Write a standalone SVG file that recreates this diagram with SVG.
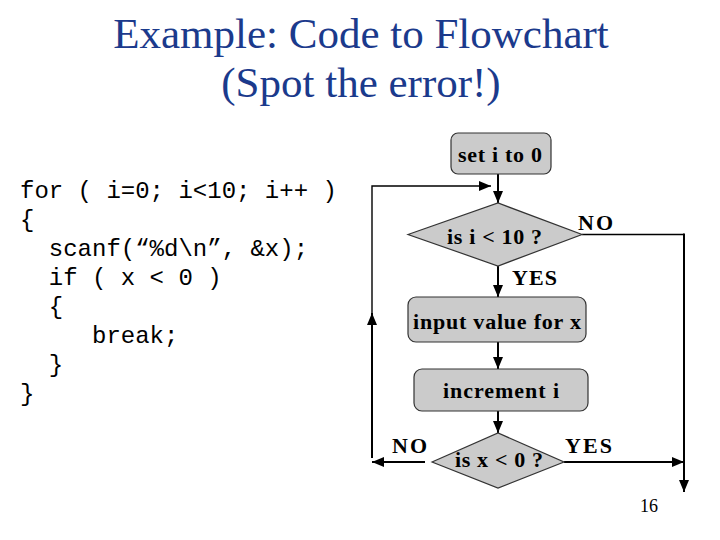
<svg xmlns="http://www.w3.org/2000/svg" width="720" height="540" viewBox="0 0 720 540">
<style>
.title{font-family:"Liberation Serif","Times New Roman",serif;font-size:43px;fill:#1b3a8c;text-anchor:middle}
.code{font-family:"Liberation Mono","Courier New",monospace;font-size:24px;fill:#000}
.lbl{font-family:"Liberation Serif","Times New Roman",serif;font-size:22px;font-weight:bold;fill:#000}
.shape{fill:#cbcbcb;stroke:#333;stroke-width:1.2}
.conn{fill:none;stroke:#000;stroke-width:2}
.thin{fill:none;stroke:#000;stroke-width:1.4}
.pg{font-family:"Liberation Serif","Times New Roman",serif;font-size:18px;fill:#000}
</style>
<defs>
<marker id="ah" markerUnits="userSpaceOnUse" markerWidth="12" markerHeight="12" viewBox="0 0 12 12" refX="12" refY="6" orient="auto">
<path d="M0,1 L12,6 L0,11 Z" fill="#000"/>
</marker>
</defs>
<rect width="720" height="540" fill="#fff"/>
<g id="title">
<text class="title" x="361" y="47.5">Example: Code to Flowchart</text>
<text class="title" x="361" y="96.5">(Spot the error!)</text>
</g>
<g id="code">
<text class="code" x="20" y="198">for ( i=0; i&lt;10; i++ )</text>
<text class="code" x="20" y="227">{</text>
<text class="code" x="48.8" y="256">scanf(“%d\n”, &amp;x);</text>
<text class="code" x="48.8" y="285">if ( x &lt; 0 )</text>
<text class="code" x="48.8" y="314">{</text>
<text class="code" x="92" y="343">break;</text>
<text class="code" x="48.8" y="372">}</text>
<text class="code" x="20" y="401">}</text>
</g>
<g id="connectors">
<line class="conn" x1="498" y1="174" x2="498" y2="203" marker-end="url(#ah)"/>
<polyline class="thin" points="372,313 372,186 491,186" marker-end="url(#ah)"/>
<line class="conn" x1="372" y1="458" x2="372" y2="313" marker-end="url(#ah)"/>
<line class="conn" x1="425" y1="462" x2="372" y2="462" marker-end="url(#ah)"/>
<polyline class="thin" points="582,234.5 684,234.5"/>
<line class="conn" x1="684" y1="233.5" x2="684" y2="492" marker-end="url(#ah)"/>
<line class="conn" x1="498" y1="266" x2="498" y2="297" marker-end="url(#ah)"/>
<line class="conn" x1="498" y1="342" x2="498" y2="369" marker-end="url(#ah)"/>
<line class="conn" x1="498" y1="411" x2="498" y2="433" marker-end="url(#ah)"/>
<line class="conn" x1="564" y1="462" x2="684" y2="462" marker-end="url(#ah)"/>
</g>
<g id="set-i">
<rect class="shape" x="451" y="133" width="100" height="41" rx="7"/>
<text class="lbl" x="458" y="162" textLength="84" lengthAdjust="spacing">set i to 0</text>
</g>
<g id="cond-i">
<polygon class="shape" points="408,234.5 498,203 582,234.5 498,266"/>
<text class="lbl" x="447" y="244" textLength="95" lengthAdjust="spacing">is i &lt; 10 ?</text>
</g>
<g id="label-no-1"><text class="lbl" x="578" y="230" textLength="35" lengthAdjust="spacing">NO</text></g>
<g id="label-yes-1"><text class="lbl" x="512" y="285" textLength="45" lengthAdjust="spacing">YES</text></g>
<g id="input-x">
<rect class="shape" x="408" y="297" width="178" height="45" rx="8"/>
<text class="lbl" x="413" y="329" textLength="168" lengthAdjust="spacing">input value for x</text>
</g>
<g id="increment-i">
<rect class="shape" x="414" y="369" width="174" height="42" rx="8"/>
<text class="lbl" x="443" y="398" textLength="116" lengthAdjust="spacing">increment i</text>
</g>
<g id="cond-x">
<polygon class="shape" points="432,462 498,433 564,462 498,488"/>
<text class="lbl" x="455" y="467" textLength="88" lengthAdjust="spacing">is x &lt; 0 ?</text>
</g>
<g id="label-no-2"><text class="lbl" x="392" y="453" textLength="35" lengthAdjust="spacing">NO</text></g>
<g id="label-yes-2"><text class="lbl" x="565" y="453" textLength="47" lengthAdjust="spacing">YES</text></g>
<g id="page"><text class="pg" x="640" y="512">16</text></g>
</svg>
